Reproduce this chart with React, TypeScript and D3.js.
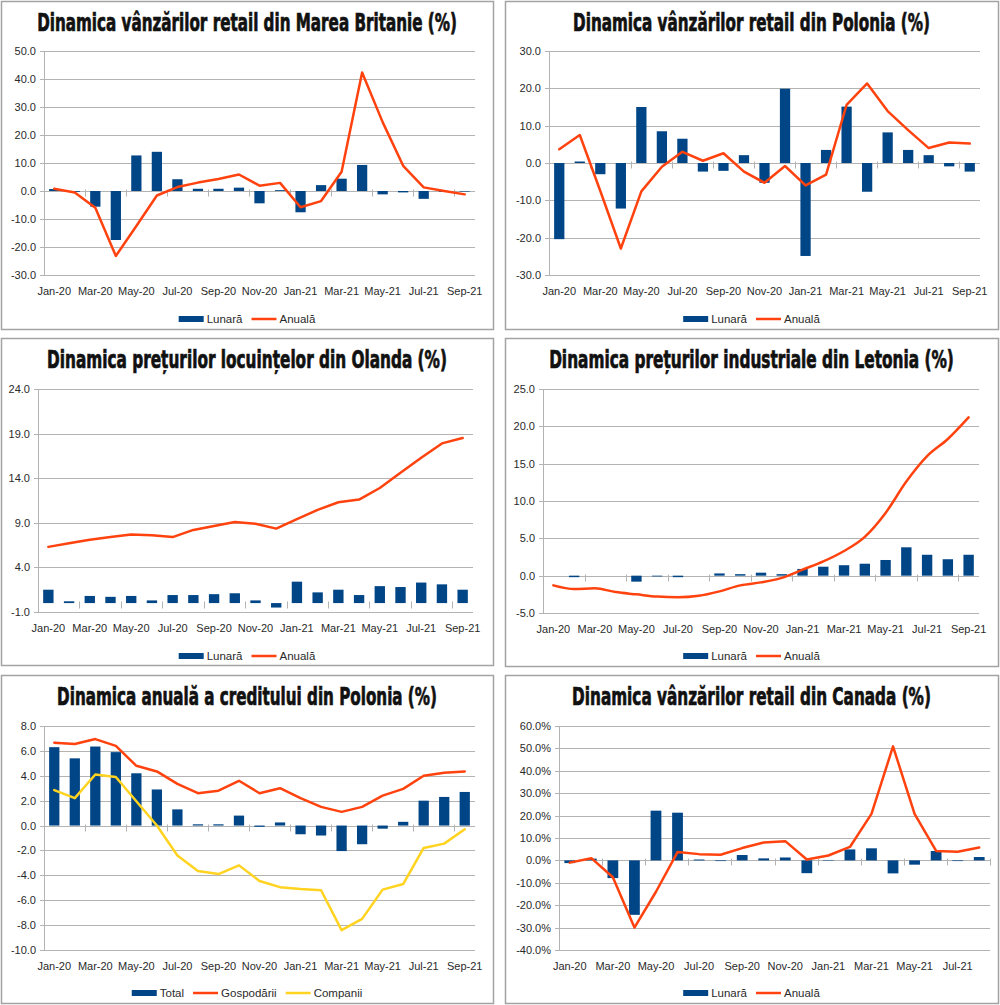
import React, { useEffect, useRef } from 'react';
import * as d3 from 'd3';

// Categories
const months = [
  'Jan-20', 'Feb-20', 'Mar-20', 'Apr-20', 'May-20', 'Jun-20', 'Jul-20', 'Aug-20', 'Sep-20', 'Oct-20', 'Nov-20', 'Dec-20',
  'Jan-21', 'Feb-21', 'Mar-21', 'Apr-21', 'May-21', 'Jun-21', 'Jul-21', 'Aug-21', 'Sep-21',
];
const monthsCanada = [
  'Jan-20', 'Feb-20', 'Mar-20', 'Apr-20', 'May-20', 'Jun-20', 'Jul-20', 'Aug-20', 'Sep-20', 'Oct-20', 'Nov-20', 'Dec-20',
  'Jan-21', 'Feb-21', 'Mar-21', 'Apr-21', 'May-21', 'Jun-21', 'Jul-21', 'Aug-21',
];

// Marea Britanie - vanzari retail
const ukMonthly = [0.7, -0.3, -5.6, -17.5, 12.7, 14.0, 4.2, 0.8, 0.8, 1.2, -4.4, 0.3, -7.6, 2.1, 4.4, 9.3, -1.2, -0.5, -2.8, -0.3, -0.2];
const ukAnnual = [0.8, -0.5, -6.0, -23.2, -12.5, -1.6, 1.4, 3.0, 4.3, 5.9, 1.9, 2.9, -5.8, -3.6, 6.9, 42.3, 24.6, 9.0, 1.3, 0.0, -1.2];
const ukTicks = [-30, -20, -10, 0, 10, 20, 30, 40, 50];

// Polonia - vanzari retail
const plMonthly = [-20.4, 0.4, -3.0, -12.2, 15.0, 8.5, 6.5, -2.3, -2.1, 2.1, -5.3, 19.9, -24.9, 3.5, 15.1, -7.7, 8.2, 3.5, 2.1, -0.9, -2.3];
const plAnnual = [3.7, 7.5, -7.5, -22.9, -7.6, -1.0, 3.0, 0.6, 2.6, -2.3, -5.3, -0.8, -6.0, -3.1, 15.6, 21.3, 13.9, 8.8, 4.0, 5.5, 5.2];
const plTicks = [-30, -20, -10, 0, 10, 20, 30];

// Olanda - preturi locuinte
const nlMonthly = [1.5, 0.2, 0.8, 0.7, 0.8, 0.3, 0.9, 0.9, 1.0, 1.1, 0.3, -0.5, 2.4, 1.2, 1.5, 0.9, 1.9, 1.8, 2.3, 2.1, 1.5];
const nlAnnual = [6.3, 6.7, 7.1, 7.4, 7.7, 7.6, 7.4, 8.2, 8.65, 9.1, 8.9, 8.35, 9.4, 10.45, 11.3, 11.6, 12.9, 14.6, 16.3, 17.9, 18.5];
const nlTicks = [-1, 4, 9, 14, 19, 24];

// Letonia - preturi industriale
const lvMonthly = [0.0, -0.2, 0.0, 0.0, -0.8, -0.1, -0.2, 0.0, 0.3, 0.2, 0.4, 0.2, 0.9, 1.2, 1.4, 1.6, 2.1, 3.8, 2.8, 2.2, 2.8];
const lvAnnual = [-1.3, -1.8, -1.7, -2.2, -2.5, -2.8, -2.9, -2.7, -2.1, -1.3, -0.9, -0.3, 0.8, 1.9, 3.3, 5.2, 8.4, 12.6, 16.0, 18.3, 21.2];
const lvTicks = [-5, 0, 5, 10, 15, 20, 25];

// Polonia - credit
const plCreditTotal = [6.3, 5.4, 6.35, 5.9, 4.2, 2.9, 1.3, 0.1, 0.1, 0.8, -0.1, 0.25, -0.7, -0.8, -2.05, -1.5, -0.25, 0.3, 2.0, 2.3, 2.7];
const plCreditHouseholds = [6.65, 6.55, 6.95, 6.4, 4.8, 4.35, 3.35, 2.6, 2.8, 3.6, 2.6, 3.0, 2.2, 1.5, 1.1, 1.5, 2.4, 2.95, 4.0, 4.25, 4.35];
const plCreditCompanies = [2.85, 2.2, 4.1, 3.9, 1.95, 0.0, -2.4, -3.65, -3.9, -3.2, -4.45, -4.95, -5.1, -5.2, -8.4, -7.5, -5.15, -4.7, -1.8, -1.45, -0.3];
const creditTicks = [-10, -8, -6, -4, -2, 0, 2, 4, 6, 8];

// Canada - vanzari retail
const caMonthly = [-1.2, 0.8, -7.9, -24.3, 22.2, 21.3, 0.4, -0.3, 2.4, 0.9, 1.3, -5.7, 0.2, 4.9, 5.4, -5.8, -1.9, 4.2, -0.3, 1.5];
const caAnnual = [-1.0, 1.0, -7.5, -30.0, -14.0, 3.7, 2.8, 2.5, 5.5, 8.0, 8.6, 0.4, 2.2, 6.0, 20.8, 50.9, 20.8, 4.2, 3.9, 5.8];
const caTicks = [-40, -30, -20, -10, 0, 10, 20, 30, 40, 50, 60];

const BLUE = '#004586';
const ORANGE = '#ff420e';
const YELLOW = '#ffd320';
const GRID = '#b3b3b3';
const TEXT = '#2a2a2a';

interface Series {
  name: string;
  values: number[];
  kind: 'bar' | 'line';
  color: string;
  smooth?: boolean;
}

interface PanelProps {
  x: number;
  y: number;
  width: number;
  height: number;
  title: string;
  titleWidth: number;
  categories: string[];
  yTicks: number[];
  yFormat: (v: number) => string;
  plot: { left: number; right: number; top: number; bottom: number };
  series: Series[];
}

const Panel: React.FC<PanelProps> = (props) => {
  const gRef = useRef<SVGGElement | null>(null);

  useEffect(() => {
    if (!gRef.current) return;
    const { width, height, title, titleWidth, categories, yTicks, yFormat, plot, series } = props;
    const g = d3.select(gRef.current);
    g.selectAll('*').remove();

    // Frame
    g.append('rect')
      .attr('x', 0.5)
      .attr('y', 0.5)
      .attr('width', width)
      .attr('height', height)
      .attr('fill', '#fff')
      .attr('stroke', '#a3a3a3')
      .attr('stroke-width', 1.5);

    // Title - condensed look: measure then squeeze horizontally
    const titleText = g.append('text')
      .attr('x', 0)
      .attr('y', 0)
      .attr('text-anchor', 'middle')
      .style('font-family', '"DejaVu Sans Condensed", "DejaVu Sans", sans-serif')
      .style('font-weight', 'bold')
      .style('font-size', '24px')
      .style('fill', '#111')
      .style('stroke', '#111')
      .style('stroke-width', '0.7px')
      .text(title);
    const natural = (titleText.node() as SVGTextElement).getComputedTextLength();
    titleText.attr('transform', `translate(${width / 2}, 30) scale(${titleWidth / natural}, 1)`);

    const xScale = d3.scaleBand<string>()
      .domain(categories)
      .range([plot.left, plot.right])
      .padding(0);

    const yScale = d3.scaleLinear()
      .domain([yTicks[0], yTicks[yTicks.length - 1]])
      .range([plot.bottom, plot.top]);

    // Horizontal grid
    g.append('g')
      .selectAll('line')
      .data(yTicks)
      .enter()
      .append('line')
      .attr('x1', plot.left - 4)
      .attr('x2', plot.right)
      .attr('y1', d => Math.round(yScale(d)) + 0.5)
      .attr('y2', d => Math.round(yScale(d)) + 0.5)
      .attr('stroke', GRID)
      .attr('stroke-width', 1);

    // Vertical axis
    g.append('line')
      .attr('x1', plot.left + 0.5)
      .attr('x2', plot.left + 0.5)
      .attr('y1', plot.top)
      .attr('y2', plot.bottom)
      .attr('stroke', GRID);

    // Y labels
    g.append('g')
      .selectAll('text')
      .data(yTicks)
      .enter()
      .append('text')
      .attr('x', plot.left - 8)
      .attr('y', d => yScale(d) + 4)
      .attr('text-anchor', 'end')
      .style('font-family', '"Liberation Sans", Arial, sans-serif')
      .style('font-size', '11px')
      .style('fill', TEXT)
      .text(d => yFormat(d));

    // Category axis at zero with ticks every two months
    const y0 = Math.round(yScale(0)) + 0.5;
    const bw = xScale.bandwidth();
    const tickIdx = d3.range(0, categories.length + 1, 2);
    g.append('g')
      .selectAll('line')
      .data(tickIdx)
      .enter()
      .append('line')
      .attr('x1', i => Math.round(plot.left + i * bw) + 0.5)
      .attr('x2', i => Math.round(plot.left + i * bw) + 0.5)
      .attr('y1', y0 - 2)
      .attr('y2', y0 + 5)
      .attr('stroke', GRID);

    // X labels
    g.append('g')
      .selectAll('text')
      .data(categories.filter((_, i) => i % 2 === 0))
      .enter()
      .append('text')
      .attr('x', d => (xScale(d) as number) + bw / 2)
      .attr('y', plot.bottom + 20)
      .attr('text-anchor', 'middle')
      .style('font-family', '"Liberation Sans", Arial, sans-serif')
      .style('font-size', '11px')
      .style('fill', TEXT)
      .text(d => d);

    // Bars
    const barW = bw * 0.5;
    series.filter(s => s.kind === 'bar').forEach(s => {
      g.append('g')
        .selectAll('rect')
        .data(s.values)
        .enter()
        .append('rect')
        .attr('x', (_, i) => (xScale(categories[i]) as number) + bw / 2 - barW / 2)
        .attr('y', d => Math.min(yScale(d), yScale(0)))
        .attr('width', barW)
        .attr('height', d => Math.abs(yScale(d) - yScale(0)))
        .attr('fill', s.color);
    });

    // Lines
    series.filter(s => s.kind === 'line').forEach(s => {
      const line = d3.line<number>()
        .x((_, i) => (xScale(categories[i]) as number) + bw / 2)
        .y(d => yScale(d))
        .curve(s.smooth ? d3.curveMonotoneX : d3.curveLinear);
      g.append('path')
        .datum(s.values)
        .attr('d', line)
        .attr('fill', 'none')
        .attr('stroke', s.color)
        .attr('stroke-width', 2.5)
        .attr('stroke-linejoin', 'round')
        .attr('stroke-linecap', 'round');
    });

    // Legend
    const legendY = 318;
    const legend = g.append('g');
    let cursor = 0;
    series.forEach(s => {
      const item = legend.append('g').attr('transform', `translate(${cursor}, 0)`);
      if (s.kind === 'bar') {
        item.append('rect')
          .attr('x', 0)
          .attr('y', legendY - 3)
          .attr('width', 25)
          .attr('height', 6)
          .attr('fill', s.color);
      } else {
        item.append('line')
          .attr('x1', 0)
          .attr('x2', 25)
          .attr('y1', legendY)
          .attr('y2', legendY)
          .attr('stroke', s.color)
          .attr('stroke-width', 2.5);
      }
      const t = item.append('text')
        .attr('x', 28)
        .attr('y', legendY + 4)
        .style('font-family', '"Liberation Sans", Arial, sans-serif')
        .style('font-size', '11.5px')
        .style('fill', TEXT)
        .text(s.name);
      const tw = (t.node() as SVGTextElement).getComputedTextLength();
      cursor += 28 + tw + 9;
    });
    const total = cursor - 9;
    legend.attr('transform', `translate(${width / 2 - total / 2}, 0)`);
  }, [props]);

  return <g ref={gRef} transform={`translate(${props.x}, ${props.y})`} />;
};

const fmt1 = (v: number) => v.toFixed(1);
const fmtPct = (v: number) => `${v.toFixed(1)}%`;

const App: React.FC = () => {
  return (
    <svg width={1000} height={1005} style={{ position: 'absolute', left: 0, top: 0, background: '#fff' }}>
      <Panel
        x={1} y={1} width={492} height={328}
        title="Dinamica vânzărilor retail din Marea Britanie (%)" titleWidth={420}
        categories={months} yTicks={ukTicks} yFormat={fmt1}
        plot={{ left: 43, right: 474, top: 50, bottom: 274 }}
        series={[
          { name: 'Lunară', values: ukMonthly, kind: 'bar', color: BLUE },
          { name: 'Anuală', values: ukAnnual, kind: 'line', color: ORANGE },
        ]}
      />
      <Panel
        x={505} y={1} width={493} height={328}
        title="Dinamica vânzărilor retail din Polonia (%)" titleWidth={357}
        categories={months} yTicks={plTicks} yFormat={fmt1}
        plot={{ left: 44, right: 475, top: 50, bottom: 274 }}
        series={[
          { name: 'Lunară', values: plMonthly, kind: 'bar', color: BLUE },
          { name: 'Anuală', values: plAnnual, kind: 'line', color: ORANGE },
        ]}
      />
      <Panel
        x={1} y={338} width={492} height={327}
        title="Dinamica prețurilor locuințelor din Olanda (%)" titleWidth={400}
        categories={months} yTicks={nlTicks} yFormat={fmt1}
        plot={{ left: 37, right: 472, top: 51, bottom: 274 }}
        series={[
          { name: 'Lunară', values: nlMonthly, kind: 'bar', color: BLUE },
          { name: 'Anuală', values: nlAnnual, kind: 'line', color: ORANGE },
        ]}
      />
      <Panel
        x={505} y={338} width={493} height={328}
        title="Dinamica prețurilor industriale din Letonia (%)" titleWidth={405}
        categories={months} yTicks={lvTicks} yFormat={fmt1}
        plot={{ left: 38, right: 474, top: 51, bottom: 275 }}
        series={[
          { name: 'Lunară', values: lvMonthly, kind: 'bar', color: BLUE },
          { name: 'Anuală', values: lvAnnual, kind: 'line', color: ORANGE, smooth: true },
        ]}
      />
      <Panel
        x={1} y={675} width={492} height={328}
        title="Dinamica anuală a creditului din Polonia (%)" titleWidth={380}
        categories={months} yTicks={creditTicks} yFormat={fmt1}
        plot={{ left: 43, right: 474, top: 51, bottom: 275 }}
        series={[
          { name: 'Total', values: plCreditTotal, kind: 'bar', color: BLUE },
          { name: 'Gospodării', values: plCreditHouseholds, kind: 'line', color: ORANGE },
          { name: 'Companii', values: plCreditCompanies, kind: 'line', color: YELLOW },
        ]}
      />
      <Panel
        x={505} y={675} width={493} height={328}
        title="Dinamica vânzărilor retail din Canada (%)" titleWidth={359}
        categories={monthsCanada} yTicks={caTicks} yFormat={fmtPct}
        plot={{ left: 54, right: 485, top: 51, bottom: 275 }}
        series={[
          { name: 'Lunară', values: caMonthly, kind: 'bar', color: BLUE },
          { name: 'Anuală', values: caAnnual, kind: 'line', color: ORANGE },
        ]}
      />
    </svg>
  );
};

export default App;
